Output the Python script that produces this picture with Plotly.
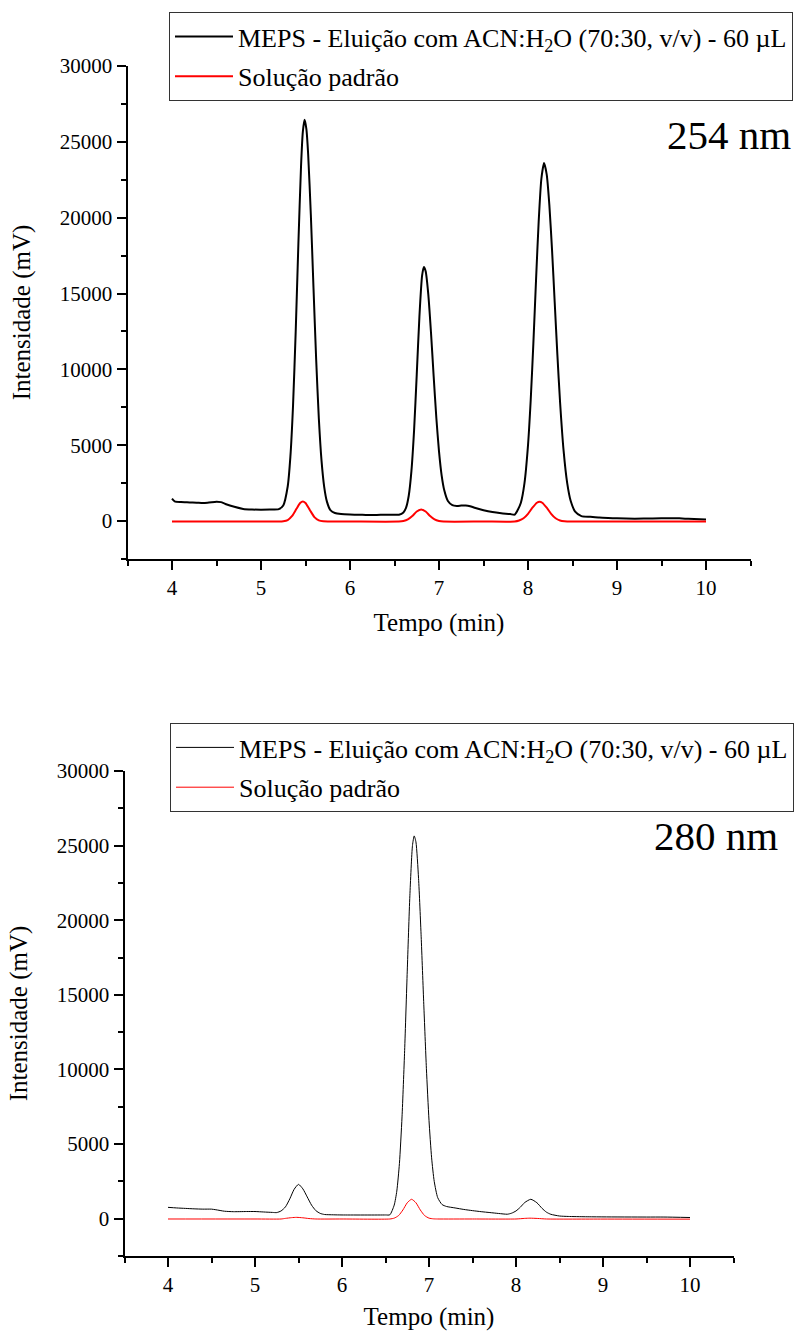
import plotly.graph_objects as go

# ---------------- Data ----------------
# 254 nm panel
t254_meps = [4.00, 4.03, 4.10, 4.20, 4.30, 4.40, 4.50, 4.55, 4.60, 4.70, 4.80, 4.90, 5.00, 5.10, 5.20,
             5.25, 5.30, 5.33, 5.36, 5.39, 5.42, 5.45, 5.47, 5.49, 5.51, 5.53, 5.56, 5.59, 5.62, 5.65,
             5.68, 5.71, 5.74, 5.78, 5.83, 5.90, 6.00, 6.10, 6.20, 6.30, 6.40, 6.50, 6.55, 6.60,
             6.63, 6.66, 6.69, 6.72, 6.75, 6.78, 6.81, 6.83, 6.85, 6.88, 6.91, 6.94, 6.97, 7.00,
             7.03, 7.06, 7.10, 7.15, 7.20, 7.25, 7.30, 7.35, 7.40, 7.50, 7.60, 7.70, 7.80, 7.85,
             7.88, 7.92, 7.96, 8.00, 8.03, 8.06, 8.09, 8.12, 8.15, 8.18, 8.21, 8.24, 8.27, 8.30,
             8.33, 8.36, 8.40, 8.44, 8.48, 8.53, 8.60, 8.70, 8.80, 8.90, 9.00, 9.20, 9.40, 9.60,
             9.70, 9.80, 10.00]
i254_meps = [1480, 1300, 1250, 1230, 1200, 1210, 1280, 1250, 1130, 940, 800, 760, 750, 760, 790,
             1030, 2280, 4230, 7620, 12520, 18280, 23420, 25660, 26450, 25840, 24170, 20190, 15350, 10630, 6750,
             3990, 2260, 1300, 720, 530, 460, 430, 420, 400, 400, 420, 410, 420, 570,
             885, 1670, 3290, 5990, 9670, 13490, 16180, 16750, 16470, 14930, 12430, 9550, 6810, 4600,
             3000, 2010, 1325, 1050, 1000, 1020, 1030, 980, 880, 720, 600, 520, 460, 420,
             680, 1210, 2480, 4990, 7930, 11680, 15850, 19750, 22550, 23600, 22860, 20830, 17880, 14430,
             10970, 7870, 4640, 2520, 1320, 620, 330, 280, 230, 200, 180, 160, 170, 190,
             180, 150, 100]

t254_pad = [4.00, 4.50, 5.00, 5.20, 5.25, 5.30, 5.35, 5.40, 5.44, 5.47, 5.50, 5.55, 5.60, 5.65, 5.70,
            5.75, 6.00, 6.55, 6.60, 6.65, 6.70, 6.75, 6.80, 6.85, 6.90, 6.95, 7.00, 7.05, 7.50,
            7.85, 7.90, 7.95, 8.00, 8.05, 8.10, 8.13, 8.16, 8.21, 8.26, 8.31, 8.36, 8.41, 8.50,
            9.00, 10.00]
i254_pad = [-30, -30, -30, -30, -12, 70, 337, 824, 1190, 1290, 1190, 717, 264, 44, -18,
            -30, -30, -30, 5, 108, 336, 628, 770, 628, 336, 108, 5, -30, -30,
            -30, 39, 186, 480, 881, 1206, 1270, 1206, 881, 480, 186, 39, -13, -30,
            -30, -30]

# 280 nm panel
t280_meps = [4.00, 4.10, 4.20, 4.30, 4.40, 4.50, 4.55, 4.65, 4.75, 4.90, 5.00, 5.10, 5.20, 5.25,
             5.30, 5.35, 5.40, 5.45, 5.50, 5.55, 5.60, 5.65, 5.70, 5.75, 5.80, 5.90, 6.00, 6.50,
             6.55, 6.60, 6.63, 6.66, 6.69, 6.72, 6.75, 6.78, 6.81, 6.83, 6.85, 6.88, 6.91, 6.94,
             6.97, 7.00, 7.03, 7.06, 7.10, 7.15, 7.20, 7.30, 7.40, 7.50, 7.60, 7.70, 7.80, 7.90,
             7.95, 8.00, 8.05, 8.10, 8.17, 8.24, 8.30, 8.35, 8.40, 8.50, 8.60, 8.80, 9.00, 9.50,
             9.70, 10.00]
i280_meps = [760, 720, 690, 660, 640, 640, 600, 500, 470, 480, 480, 450, 420, 410,
             520, 790, 1330, 1970, 2300, 2000, 1460, 910, 537, 354, 280, 260, 250, 250,
             260, 910, 1850, 3690, 6820, 11270, 16590, 21640, 25010, 25650, 25240, 22800, 18890, 14370,
             10080, 6590, 4080, 2500, 1410, 950, 820, 720, 620, 540, 470, 410, 350, 300,
             370, 518, 771, 1082, 1300, 1070, 690, 438, 295, 180, 150, 130, 120, 110,
             110, 80]

t280_pad = [4.00, 5.00, 5.30, 5.35, 5.42, 5.48, 5.55, 5.62, 5.70, 6.00, 6.55, 6.60, 6.65, 6.70,
            6.75, 6.80, 6.85, 6.90, 6.95, 7.00, 7.05, 7.10, 7.50, 8.00, 8.10, 8.16, 8.25, 8.35,
            9.00, 10.00]
i280_pad = [-20, -20, -20, 20, 70, 90, 60, 10, -20, -20, -20, 38, 207, 585,
            1066, 1300, 1066, 585, 207, 38, -10, -20, -20, -20, 20, 35, 15, -20,
            -25, -30]

name_meps = "MEPS - Eluição com ACN:H<sub>2</sub>O (70:30, v/v) - 60 µL"
name_pad = "Solução padrão"

x_ticks = [4, 5, 6, 7, 8, 9, 10]

# ---------------- Figure ----------------
FONT = "Liberation Serif"
fig = go.Figure()

fig.add_trace(go.Scatter(x=t254_meps, y=i254_meps, mode="lines", name=name_meps, legendgroup="a",
                         line=dict(color="black", width=2, shape="spline", smoothing=0.6),
                         xaxis="x", yaxis="y", legend="legend"))
fig.add_trace(go.Scatter(x=t254_pad, y=i254_pad, mode="lines", name=name_pad, legendgroup="b",
                         line=dict(color="#ff0000", width=2, shape="spline", smoothing=0.6),
                         xaxis="x", yaxis="y", legend="legend"))
fig.add_trace(go.Scatter(x=t280_meps, y=i280_meps, mode="lines", name=name_meps, legendgroup="c",
                         line=dict(color="black", width=1, shape="spline", smoothing=0.6),
                         xaxis="x2", yaxis="y2", legend="legend2"))
fig.add_trace(go.Scatter(x=t280_pad, y=i280_pad, mode="lines", name=name_pad, legendgroup="d",
                         line=dict(color="#ff0000", width=1, shape="spline", smoothing=0.6),
                         xaxis="x2", yaxis="y2", legend="legend2"))

W, H = 796, 1331

def xaxis_cfg(domain, anchor):
    return dict(domain=domain, anchor=anchor, range=[3.5, 10.5], tickvals=x_ticks,
                showline=True, linecolor="black", linewidth=2, mirror=False,
                ticks="outside", ticklen=9, tickwidth=2, tickcolor="black",
                minor=dict(dtick=0.5, tick0=3.5, ticks="outside", ticklen=5, tickwidth=2, tickcolor="black"),
                showgrid=False, zeroline=False, automargin=False,
                tickfont=dict(family=FONT, size=21, color="black"),
                title=dict(text="Tempo (min)", font=dict(family=FONT, size=25, color="black"), standoff=14))

def yaxis_cfg(domain, anchor):
    return dict(domain=domain, anchor=anchor, range=[-2500, 30000], dtick=5000, tick0=0,
                tickformat="d",
                showline=True, linecolor="black", linewidth=2, mirror=False,
                ticks="outside", ticklen=9, tickwidth=2, tickcolor="black",
                minor=dict(dtick=2500, tick0=0, ticks="outside", ticklen=5, tickwidth=2, tickcolor="black"),
                showgrid=False, zeroline=False, automargin=False,
                tickfont=dict(family=FONT, size=21, color="black"),
                title=dict(text="Intensidade (mV)", font=dict(family=FONT, size=25, color="black"), standoff=22))

legend_common = dict(xanchor="left", yanchor="top", bgcolor="white", bordercolor="#333333",
                     borderwidth=1, itemwidth=58, tracegroupgap=3,
                     font=dict(family=FONT, size=26, color="black"))

fig.update_layout(
    width=W, height=H,
    margin=dict(l=0, r=0, t=0, b=0, autoexpand=False),
    paper_bgcolor="white", plot_bgcolor="white",
    font=dict(family=FONT, color="black"),
    xaxis=xaxis_cfg([127.5 / W, 750.5 / W], "y"),
    yaxis=yaxis_cfg([1 - 559 / H, 1 - 66 / H], "x"),
    xaxis2=xaxis_cfg([124.5 / W, 733.5 / W], "y2"),
    yaxis2=yaxis_cfg([1 - 1256 / H, 1 - 771 / H], "x2"),
    legend=dict(x=169 / W, y=1 - 12 / H, **legend_common),
    legend2=dict(x=170 / W, y=1 - 723 / H, **legend_common),
    annotations=[
        dict(text="254 nm", x=729 / W, y=1 - 135 / H, xref="paper", yref="paper",
             xanchor="center", yanchor="middle",
             showarrow=False, font=dict(family=FONT, size=41, color="black")),
        dict(text="280 nm", x=716 / W, y=1 - 836 / H, xref="paper", yref="paper",
             xanchor="center", yanchor="middle",
             showarrow=False, font=dict(family=FONT, size=41, color="black")),
    ],
)

fig.write_html("out.html")
